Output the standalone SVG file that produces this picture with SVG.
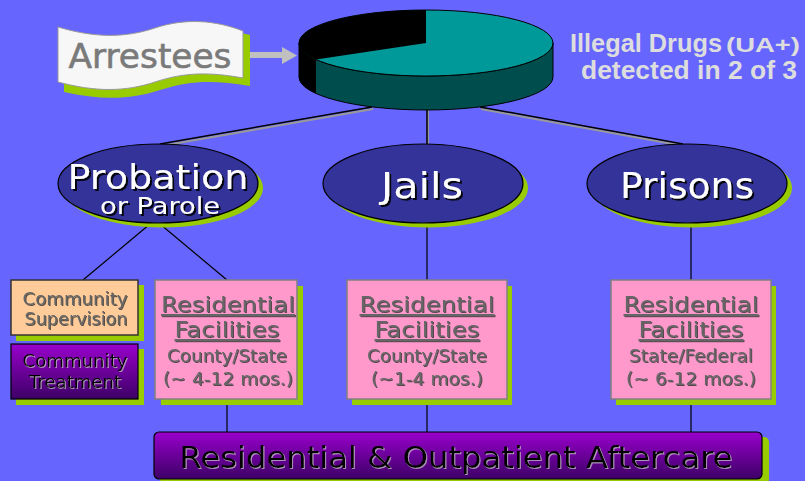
<svg xmlns="http://www.w3.org/2000/svg" width="805" height="481" viewBox="0 0 805 481">
<defs>
<style>
.bg{fill:#6666ff}
.sh{fill:#99cc00}
.ell{fill:#333399;stroke:#000;stroke-width:1.2}
.etx{font-family:"DejaVu Sans",Verdana,sans-serif;fill:#fff;text-anchor:middle;filter:url(#dsBlack)}
.conn{stroke:#000;stroke-width:1.5;fill:none}
.connsh{stroke:#999;stroke-width:2;fill:none}
.thin{stroke:#000;stroke-width:1.2;fill:none}
.box{fill:#ff99cc;stroke:#808080;stroke-width:1.5}
.btx{font-family:"DejaVu Sans",Verdana,sans-serif;fill:#666;text-anchor:middle;filter:url(#dsDark)}
.big{font-size:22px;text-decoration:underline}
.small{font-size:18px}
.purp{stroke:#000;stroke-width:1.2}
.ptx{font-family:"DejaVu Sans",Verdana,sans-serif;fill:#000;text-anchor:middle;filter:url(#dsLight)}
.ill{font-family:"Liberation Sans",Arial,sans-serif;font-weight:bold;fill:#dddddd}
</style>
<filter id="dsBlack" x="-10%" y="-20%" width="130%" height="150%"><feDropShadow dx="2" dy="2" stdDeviation="0" flood-color="#000" flood-opacity="0.9"/></filter>
<filter id="dsDark" x="-10%" y="-20%" width="130%" height="150%"><feDropShadow dx="1" dy="1" stdDeviation="0" flood-color="#333" flood-opacity="0.8"/></filter>
<filter id="dsLight" x="-10%" y="-20%" width="130%" height="150%"><feDropShadow dx="1" dy="1" stdDeviation="0" flood-color="#cccccc" flood-opacity="0.7"/></filter>
<linearGradient id="purpG" x1="0" y1="0" x2="0" y2="1"><stop offset="0" stop-color="#9900cc"/><stop offset="1" stop-color="#3d0066"/></linearGradient>
</defs>
<rect class="bg" x="0" y="0" width="805" height="481"/>

<g id="connectors">
<line class="connsh" x1="373" y1="109" x2="161" y2="146"/>
<line class="conn" x1="372" y1="107" x2="160" y2="144"/>
<line class="connsh" x1="481" y1="109" x2="684" y2="146"/>
<line class="conn" x1="480" y1="107" x2="683" y2="144"/>
<line class="connsh" x1="428" y1="110" x2="428" y2="145"/>
<line class="conn" x1="427" y1="110" x2="427" y2="144"/>
<line class="thin" x1="150" y1="224" x2="83" y2="280"/>
<line class="thin" x1="160" y1="224" x2="227" y2="280"/>
<line class="thin" x1="427" y1="223" x2="427" y2="280"/>
<line class="thin" x1="691" y1="223" x2="691" y2="280"/>
<line class="thin" x1="227" y1="399" x2="227" y2="432"/>
<line class="thin" x1="427" y1="399" x2="427" y2="432"/>
<line class="thin" x1="691" y1="399" x2="691" y2="432"/>
<path d="M248,52 L282,52 L282,47 L297,55.5 L282,64 L282,58 L248,58 Z" fill="#c0c0c0"/>
</g>

<g id="arrestees">
<path class="sh" d="M64,35 C100,45 130,45 160,35 S220,28 250,35 L250,86 C215,80 190,80 160,90 S100,100 64,92 Z"/>
<path d="M58,27 C95,38 125,38 155,28 S215,20 243,31 L243,78 C210,72 185,72 155,82 S95,92 58,82 Z" fill="#f7f7f7" stroke="#999" stroke-width="1"/>
<text x="150" y="68" text-anchor="middle" font-family="DejaVu Sans,Verdana,sans-serif" font-size="34" fill="#7a7a7a" stroke="#7a7a7a" stroke-width="0.6" textLength="163" lengthAdjust="spacingAndGlyphs">Arrestees</text>
</g>

<g id="pie">
<path d="M299,43 A127,33 0 0 0 553,43 L553,77 A127,33 0 0 1 299,77 Z" fill="#004d4d" stroke="#000" stroke-width="1"/>
<path d="M299,43 A127,33 0 0 0 316,59.5 L316,93.5 A127,33 0 0 1 299,77 Z" fill="#000"/>
<ellipse cx="426" cy="43" rx="127" ry="33" fill="#009999" stroke="#000" stroke-width="1"/>
<path d="M426,43 L426,10 A127,33 0 0 0 316,59.5 Z" fill="#000"/>
</g>

<g id="illegal-drugs">
<text class="ill" x="570" y="52" font-size="26" textLength="152" lengthAdjust="spacingAndGlyphs">Illegal Drugs</text>
<text class="ill" x="726" y="52" font-size="21" textLength="74" lengthAdjust="spacingAndGlyphs">(UA+)</text>
<text class="ill" x="581" y="79" font-size="26" textLength="216" lengthAdjust="spacingAndGlyphs">detected in 2 of 3</text>
</g>

<g id="probation">
<ellipse class="sh" cx="163" cy="188" rx="100" ry="39.5"/>
<ellipse class="ell" cx="158" cy="183.5" rx="100" ry="39.5"/>
<text class="etx" x="158" y="189" font-size="34" textLength="181" lengthAdjust="spacingAndGlyphs">Probation</text>
<text class="etx" x="160" y="214" font-size="23" textLength="120" lengthAdjust="spacingAndGlyphs">or Parole</text>
</g>

<g id="jails">
<ellipse class="sh" cx="428" cy="188" rx="100" ry="39.5"/>
<ellipse class="ell" cx="423" cy="183.5" rx="100" ry="39.5"/>
<text class="etx" x="422" y="198" font-size="36" textLength="82" lengthAdjust="spacingAndGlyphs">Jails</text>
</g>

<g id="prisons">
<ellipse class="sh" cx="692" cy="188" rx="100" ry="39.5"/>
<ellipse class="ell" cx="687" cy="183.5" rx="100" ry="39.5"/>
<text class="etx" x="687" y="198" font-size="36" textLength="134" lengthAdjust="spacingAndGlyphs">Prisons</text>
</g>

<g id="community-supervision">
<rect class="sh" x="16" y="285" width="128" height="56"/>
<rect x="11" y="280" width="127" height="55" fill="#ffcc99" stroke="#333" stroke-width="1.5"/>
<text class="btx small" x="75" y="305" textLength="105" lengthAdjust="spacingAndGlyphs">Community</text>
<text class="btx small" x="76" y="325" textLength="103" lengthAdjust="spacingAndGlyphs">Supervision</text>
</g>

<g id="community-treatment">
<rect class="sh" x="16" y="349" width="128" height="56"/>
<rect class="purp" x="11" y="344" width="127" height="55" fill="url(#purpG)"/>
<text class="ptx small" x="75" y="367" textLength="105" lengthAdjust="spacingAndGlyphs">Community</text>
<text class="ptx small" x="75" y="388" textLength="92" lengthAdjust="spacingAndGlyphs">Treatment</text>
</g>

<g id="residential-county">
<rect class="sh" x="161" y="286" width="142" height="119"/>
<rect class="box" x="155" y="280" width="142" height="119"/>
<text class="btx big" x="228" y="312" textLength="134" lengthAdjust="spacingAndGlyphs">Residential</text>
<text class="btx big" x="227" y="337" textLength="105" lengthAdjust="spacingAndGlyphs">Facilities</text>
<text class="btx small" x="227" y="362" textLength="120" lengthAdjust="spacingAndGlyphs">County/State</text>
<text class="btx small" x="228" y="385" textLength="130" lengthAdjust="spacingAndGlyphs">(~ 4-12 mos.)</text>
</g>

<g id="residential-jail">
<rect class="sh" x="352" y="286" width="160" height="119"/>
<rect class="box" x="347" y="280" width="160" height="119"/>
<text class="btx big" x="427" y="312" textLength="135" lengthAdjust="spacingAndGlyphs">Residential</text>
<text class="btx big" x="427" y="337" textLength="105" lengthAdjust="spacingAndGlyphs">Facilities</text>
<text class="btx small" x="427" y="362" textLength="120" lengthAdjust="spacingAndGlyphs">County/State</text>
<text class="btx small" x="427" y="385" textLength="112" lengthAdjust="spacingAndGlyphs">(~1-4 mos.)</text>
</g>

<g id="residential-prison">
<rect class="sh" x="616" y="286" width="160" height="119"/>
<rect class="box" x="611" y="280" width="160" height="119"/>
<text class="btx big" x="691" y="312" textLength="135" lengthAdjust="spacingAndGlyphs">Residential</text>
<text class="btx big" x="691" y="337" textLength="105" lengthAdjust="spacingAndGlyphs">Facilities</text>
<text class="btx small" x="691" y="362" textLength="124" lengthAdjust="spacingAndGlyphs">State/Federal</text>
<text class="btx small" x="691" y="385" textLength="130" lengthAdjust="spacingAndGlyphs">(~ 6-12 mos.)</text>
</g>

<g id="aftercare">
<rect class="sh" x="160" y="437" width="609" height="47" rx="5"/>
<rect class="purp" x="154" y="432" width="608" height="47" rx="5" fill="url(#purpG)"/>
<text class="ptx" x="456" y="468" font-size="31" textLength="553" lengthAdjust="spacingAndGlyphs">Residential &amp; Outpatient Aftercare</text>
</g>
</svg>
